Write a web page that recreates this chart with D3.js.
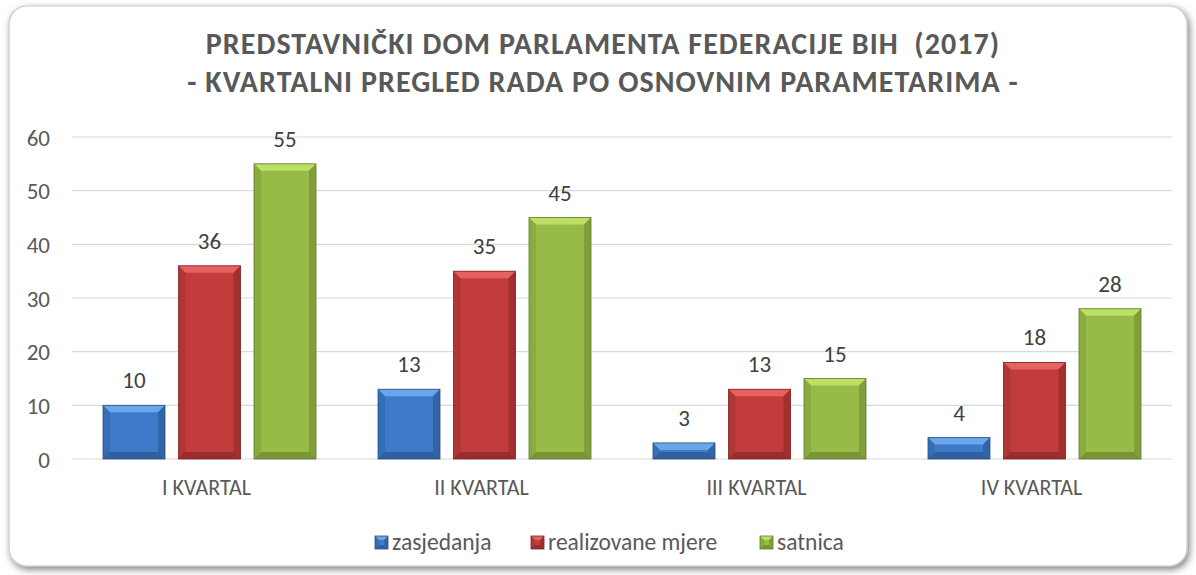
<!DOCTYPE html>
<html><head><meta charset="utf-8">
<script src="https://cdn.jsdelivr.net/npm/d3@7"></script>
<style>body{margin:0;background:#fff;}svg{display:block;}</style>
</head><body>
<svg id="c" width="1196" height="575"></svg>
<script>
const categories = ["I KVARTAL","II KVARTAL","III KVARTAL","IV KVARTAL"];
const seriesNames = ["zasjedanja","realizovane mjere","satnica"];
const zasjedanja = [10,13,3,4];
const realizovane = [36,35,13,18];
const satnica = [55,45,15,28];
const yTicks = [0,10,20,30,40,50,60];
const titleLines = ["PREDSTAVNIČKI DOM PARLAMENTA FEDERACIJE BIH  (2017)","- KVARTALNI PREGLED RADA PO OSNOVNIM PARAMETARIMA -"];

const series = [zasjedanja, realizovane, satnica];
const colors = [
  {base:"#3d7bc9", top:"#6ba6ea", side:"#2f5f9e", bot:"#284f86"},
  {base:"#c23c3c", top:"#e46262", side:"#9c2c2c", bot:"#7f2323"},
  {base:"#98bb48", top:"#bcdf66", side:"#7a9838", bot:"#627c2c"}
];
const font = "Carlito, Calibri, Lato, 'Open Sans', sans-serif";
const svg = d3.select("#c");
const defs = svg.append("defs");
const f = defs.append("filter").attr("id","sh").attr("x","-5%").attr("y","-5%").attr("width","110%").attr("height","110%");
f.append("feDropShadow").attr("dx",2).attr("dy",3).attr("stdDeviation",3.5).attr("flood-color","#000").attr("flood-opacity",0.5);

svg.append("rect").attr("x",9).attr("y",6).attr("width",1178).attr("height",560)
  .attr("rx",18).attr("fill","#fff").attr("stroke","#c8c8c8").attr("stroke-width",1.2).attr("filter","url(#sh)");

const x = d3.scaleBand().domain(categories).range([72,1172]);
const y = d3.scaleLinear().domain([0,60]).range([459,137]);
const barW = 62, gap = 13.5;

svg.append("g").selectAll("line").data(yTicks).join("line")
  .attr("x1",72).attr("x2",1172).attr("y1",d=>y(d)).attr("y2",d=>y(d))
  .attr("stroke","#d9d9d9").attr("stroke-width",1.2);

const yAxis = d3.axisLeft(y).tickValues(yTicks).tickSize(0).tickPadding(0);
const ga = svg.append("g").attr("transform","translate(50,0)").call(yAxis);
ga.select(".domain").remove();
ga.attr("font-size",null).attr("font-family",null);
ga.selectAll("text").style("font-family",font).style("font-size","23px").attr("fill","#595959").attr("dy","0.35em");

const xAxis = d3.axisBottom(x).tickSize(0).tickPadding(0);
const gx = svg.append("g").attr("transform","translate(-3,495)").call(xAxis);
gx.select(".domain").remove();
gx.attr("font-size",null).attr("font-family",null);
gx.selectAll("text").style("font-family",font).style("font-size","22px").attr("fill","#595959").attr("dy","0").attr("y",0);

const bev = 7;
function drawBar(g, x0, w, yt, yb, c, bv){
  const h = yb - yt;
  const b = Math.min(bv, h/2, w/2);
  g.append("rect").attr("x",x0).attr("y",yt).attr("width",w).attr("height",h).attr("fill",c.base);
  g.append("polygon").attr("points",[[x0,yt],[x0+w,yt],[x0+w-b,yt+b],[x0+b,yt+b]].join(" ")).attr("fill",c.top);
  g.append("polygon").attr("points",[[x0,yt],[x0+b,yt+b],[x0+b,yb-b],[x0,yb]].join(" ")).attr("fill",c.side).attr("opacity",0.45);
  g.append("polygon").attr("points",[[x0+w,yt],[x0+w-b,yt+b],[x0+w-b,yb-b],[x0+w,yb]].join(" ")).attr("fill",c.side).attr("opacity",0.8);
  g.append("polygon").attr("points",[[x0,yb],[x0+b,yb-b],[x0+w-b,yb-b],[x0+w,yb]].join(" ")).attr("fill",c.bot).attr("opacity",0.6);
  g.append("rect").attr("x",x0).attr("y",yt).attr("width",w).attr("height",h).attr("fill","none").attr("stroke",c.bot).attr("stroke-width",0.8);
}

const bars = svg.append("g");
const groupW = 3*barW + 2*gap;
series.forEach((vals, si) => {
  vals.forEach((v, ci) => {
    const cx = x(categories[ci]) + x.bandwidth()/2;
    const x0 = cx - groupW/2 + si*(barW+gap);
    drawBar(bars, x0, barW, y(v), y(0), colors[si], bev);
    bars.append("text").attr("x",x0+barW/2).attr("y",y(v)-17)
      .attr("text-anchor","middle").style("font-family",font).style("font-size","23px").attr("fill","#404040").text(v);
  });
});

svg.append("g").selectAll("text").data(titleLines).join("text")
  .attr("x",603).attr("y",(d,i)=>54+i*38).attr("text-anchor","middle")
  .attr("xml:space","preserve").style("white-space","pre")
  .style("font-family",font).attr("font-weight","bold").style("font-size","30px").style("letter-spacing","1.05px")
  .attr("fill","#595959").text(d=>d);

// legend
const legX = [375, 531, 760];
const lg = svg.append("g");
seriesNames.forEach((n,i)=>{
  const g = lg.append("g");
  drawBar(g, legX[i], 13, 536, 549, colors[i], 4);
  g.append("text").attr("x",legX[i]+17).attr("y",550).style("font-family",font).style("font-size","23.5px").attr("fill","#595959").text(n);
});
</script>
</body></html>
